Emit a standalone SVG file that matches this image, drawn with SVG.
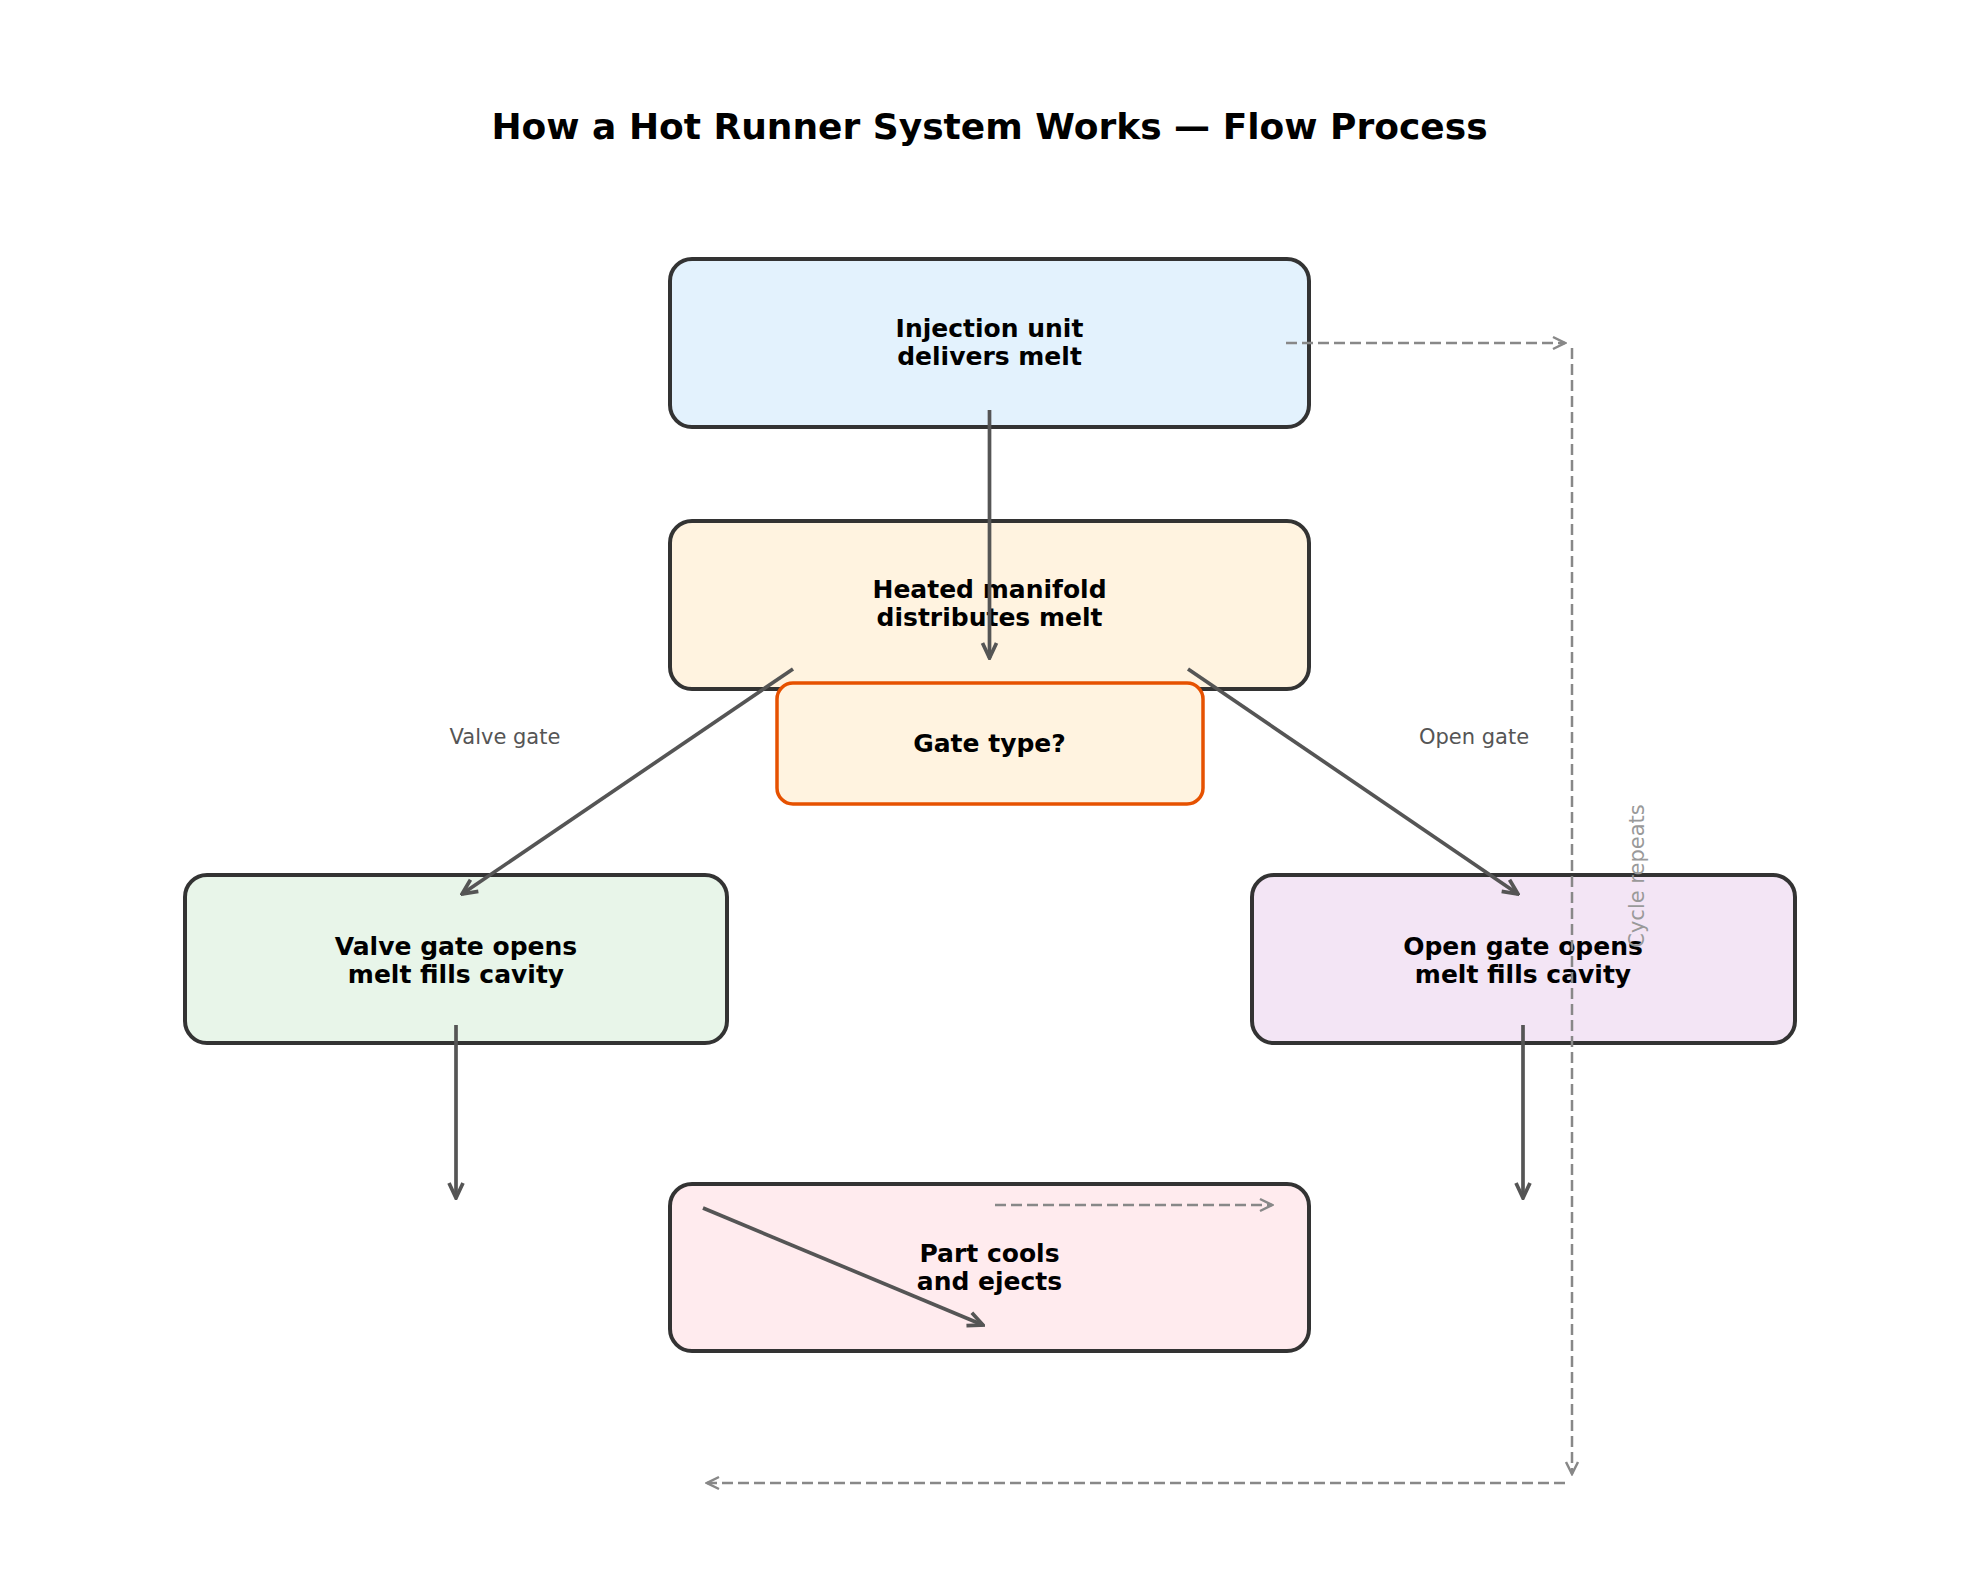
<svg xmlns="http://www.w3.org/2000/svg" width="1979" height="1580" viewBox="0 0 1979 1580">
<style>
.box{stroke:#333;stroke-width:4}
.nt{font-family:"DejaVu Sans",sans-serif;font-weight:bold;font-size:25px;fill:#000;text-anchor:middle}
.el{font-family:"DejaVu Sans",sans-serif;font-size:21px;fill:#555;text-anchor:middle}
.solid{stroke:#555;stroke-width:3.7;fill:none;marker-end:url(#ah)}
.dash{stroke:#888;stroke-width:2.5;fill:none;stroke-dasharray:11,5;marker-end:url(#ahd)}
</style>
<defs>
<marker id="ah" markerUnits="userSpaceOnUse" markerWidth="20" markerHeight="20" viewBox="-18 -10 20 20" refX="0" refY="0" orient="auto">
<path d="M-15,-7 L0,0 L-15,7" fill="none" stroke="#555" stroke-width="3.7" stroke-linejoin="miter"/>
</marker>
<marker id="ahd" markerUnits="userSpaceOnUse" markerWidth="20" markerHeight="20" viewBox="-18 -10 20 20" refX="0" refY="0" orient="auto">
<path d="M-12,-6 L0,0 L-12,6" fill="none" stroke="#888" stroke-width="2.5"/>
</marker>
</defs>
<rect width="1979" height="1580" fill="#fff"/>
<text x="989.5" y="139" font-family="DejaVu Sans, sans-serif" font-weight="bold" font-size="36" text-anchor="middle">How a Hot Runner System Works — Flow Process</text>

<g id="node-injection">
<rect class="box" x="670" y="259" width="639" height="168" rx="22" fill="#e3f2fd"/>
<text class="nt" x="989.5" y="337">Injection unit</text>
<text class="nt" x="989.5" y="365">delivers melt</text>
</g>
<g id="node-manifold">
<rect class="box" x="670" y="521" width="639" height="168" rx="22" fill="#fff3e0"/>
<text class="nt" x="989.5" y="598">Heated manifold</text>
<text class="nt" x="989.5" y="626">distributes melt</text>
</g>
<g id="node-gatetype">
<rect x="777" y="683" width="426" height="121" rx="16" fill="#fff3e0" stroke="#e65100" stroke-width="3.5"/>
<text class="nt" x="989.5" y="752">Gate type?</text>
</g>
<g id="node-valve">
<rect class="box" x="185" y="875" width="542" height="168" rx="22" fill="#e8f5e9"/>
<text class="nt" x="456" y="955">Valve gate opens</text>
<text class="nt" x="456" y="983">melt fills cavity</text>
</g>
<g id="node-open">
<rect class="box" x="1252" y="875" width="543" height="168" rx="22" fill="#f3e5f5"/>
<text class="nt" x="1523" y="955">Open gate opens</text>
<text class="nt" x="1523" y="983">melt fills cavity</text>
</g>
<g id="node-part">
<rect class="box" x="670" y="1184" width="639" height="167" rx="22" fill="#ffebee"/>
<text class="nt" x="989.5" y="1262">Part cools</text>
<text class="nt" x="989.5" y="1290">and ejects</text>
</g>

<g id="connectors">
<path class="solid" d="M989.5,410 L989.5,658"/>
<path class="solid" d="M793,669 L462,894"/>
<path class="solid" d="M1188,669 L1518,894"/>
<path class="solid" d="M456,1025 L456,1198"/>
<path class="solid" d="M1523,1025 L1523,1198"/>
<path class="solid" d="M703,1208 L983,1325"/>
<path class="dash" d="M995,1205 L1272,1205"/>
<path class="dash" d="M1286,343 L1565,343"/>
<path class="dash" d="M1572,348 L1572,1474"/>
<path class="dash" d="M1565,1483 L707,1483"/>
<text class="el" x="505" y="744">Valve gate</text>
<text class="el" x="1474" y="744">Open gate</text>
<text font-family="DejaVu Sans, sans-serif" font-size="21" fill="#999" text-anchor="middle" transform="translate(1644,876) rotate(-90)">Cycle repeats</text>
</g>
</svg>
